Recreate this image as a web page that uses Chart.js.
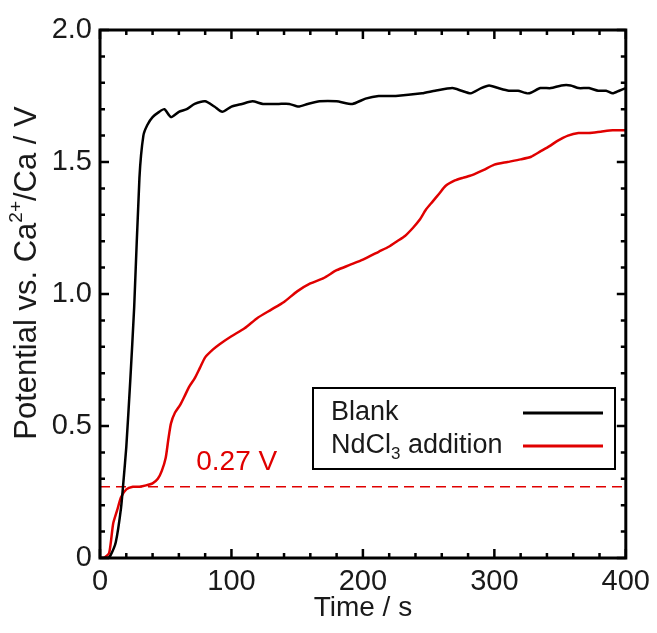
<!DOCTYPE html>
<html>
<head>
<meta charset="utf-8">
<script src="https://cdn.jsdelivr.net/npm/chart.js@4"></script>
<style>
  html, body { margin: 0; padding: 0; background: #fff; }
  #wrap { width: 657px; height: 633px; }
</style>
</head>
<body>
<div id="wrap"><canvas id="potChart" width="657" height="633"></canvas></div>
<script>
// data
const blankTime = [0, 6, 8, 12, 16, 18, 20, 23, 26, 30, 33, 36, 40, 45, 49, 54, 60, 66, 72, 80, 87, 93, 100, 108, 116, 124, 136, 144, 151, 158, 167, 180, 192, 202, 212, 225, 245, 255, 268, 275, 282, 290, 296, 303, 311, 318, 326, 335, 343, 351, 358, 364, 372, 379, 385, 390, 395, 400];
const blankPot = [0, 0, 0.01, 0.06, 0.19, 0.30, 0.42, 0.67, 0.95, 1.44, 1.60, 1.64, 1.67, 1.69, 1.70, 1.67, 1.69, 1.70, 1.72, 1.73, 1.71, 1.69, 1.71, 1.72, 1.73, 1.72, 1.72, 1.72, 1.71, 1.72, 1.73, 1.73, 1.72, 1.74, 1.75, 1.75, 1.76, 1.77, 1.78, 1.77, 1.76, 1.78, 1.79, 1.78, 1.77, 1.77, 1.76, 1.78, 1.78, 1.79, 1.79, 1.78, 1.78, 1.77, 1.77, 1.76, 1.77, 1.78];

const ndTime = [0, 3, 7, 10, 13, 16, 20, 25, 30, 35, 40, 44, 47, 50, 52, 54, 57, 61, 65, 68, 72, 76, 80, 86, 91, 100, 110, 120, 130, 140, 150, 160, 170, 180, 190, 200, 212, 220, 226, 232, 238, 243, 248, 253, 258, 263, 270, 276, 283, 292, 300, 310, 320, 328, 335, 342, 348, 356, 364, 372, 381, 390, 400];
const ndPot = [0, 0, 0.02, 0.13, 0.18, 0.23, 0.26, 0.27, 0.27, 0.275, 0.283, 0.30, 0.33, 0.38, 0.45, 0.51, 0.55, 0.58, 0.62, 0.65, 0.68, 0.72, 0.76, 0.79, 0.81, 0.84, 0.87, 0.91, 0.94, 0.97, 1.01, 1.04, 1.06, 1.09, 1.11, 1.13, 1.16, 1.18, 1.20, 1.22, 1.25, 1.28, 1.32, 1.35, 1.38, 1.41, 1.43, 1.44, 1.45, 1.47, 1.49, 1.50, 1.51, 1.52, 1.54, 1.56, 1.58, 1.60, 1.61, 1.61, 1.615, 1.62, 1.62];

const refLevel = 0.27;
const refLabel = "0.27 V";
const xTicks = [0, 100, 200, 300, 400];
const yTicks = [0, 0.5, 1.0, 1.5, 2.0];
const seriesNames = ["Blank", "NdCl3 addition"];
const seriesColors = ["#000000", "#e00000"];

const FONT = "'Liberation Sans', Arial, sans-serif";
Chart.defaults.font.family = FONT;
Chart.defaults.color = "#1a1a1a";

function toPoints(xs, ys) {
    return xs.map((x, i) => ({x: x, y: ys[i]}));
}

// draws text pieces in a row: [text, size, yShift]
function drawPieces(ctx, parts, x, y, centered) {
    let total = 0;
    parts.forEach(p => { ctx.font = p[1] + "px " + FONT; total += ctx.measureText(p[0]).width; });
    let cx = centered ? x - total / 2 : x;
    parts.forEach(p => {
        ctx.font = p[1] + "px " + FONT;
        ctx.fillText(p[0], cx, y + p[2]);
        cx += ctx.measureText(p[0]).width;
    });
}

// frame, inward ticks, titles with super/subscripts, legend
const decorPlugin = {
    id: "decor",
    afterDraw(chart) {
        const ctx = chart.ctx;
        const a = chart.chartArea;
        const xs = chart.scales.x, ys = chart.scales.y;
        ctx.save();

        // inward ticks on all four sides
        ctx.strokeStyle = "#000";
        ctx.lineWidth = 2.5;
        for (let v = 0; v <= 400.001; v += 20) {
            const px = xs.getPixelForValue(v);
            const len = (Math.round(v) % 100 === 0) ? 9 : 5;
            ctx.beginPath();
            ctx.moveTo(px, a.bottom); ctx.lineTo(px, a.bottom - len);
            ctx.moveTo(px, a.top); ctx.lineTo(px, a.top + len);
            ctx.stroke();
        }
        for (let i = 0; i <= 20; i++) {
            const py = ys.getPixelForValue(i * 0.1);
            const len = (i % 5 === 0) ? 9 : 5;
            ctx.beginPath();
            ctx.moveTo(a.left, py); ctx.lineTo(a.left + len, py);
            ctx.moveTo(a.right, py); ctx.lineTo(a.right - len, py);
            ctx.stroke();
        }

        // frame
        ctx.lineWidth = 3;
        ctx.strokeRect(a.left, a.top, a.right - a.left, a.bottom - a.top);

        // reference label
        ctx.fillStyle = seriesColors[1];
        ctx.font = "28px " + FONT;
        ctx.textAlign = "center";
        ctx.textBaseline = "middle";
        ctx.fillText(refLabel, xs.getPixelForValue(104), ys.getPixelForValue(refLevel) - 24);

        // y title, rotated, with superscript
        ctx.save();
        ctx.translate(27, 273);
        ctx.rotate(-Math.PI / 2);
        ctx.fillStyle = "#1a1a1a";
        ctx.textAlign = "left";
        ctx.textBaseline = "middle";
        drawPieces(ctx, [["Potential vs. Ca", 31, 0], ["2+", 19, -10], ["/Ca / V", 31, 0]], 0, 0, true);
        ctx.restore();

        // legend
        const bx = a.left + 213, by = a.top + 358, bw = 302, bh = 81;
        ctx.fillStyle = "#fff";
        ctx.fillRect(bx, by, bw, bh);
        ctx.strokeStyle = "#000";
        ctx.lineWidth = 2;
        ctx.strokeRect(bx, by, bw, bh);
        ctx.textAlign = "left";
        ctx.textBaseline = "middle";
        ctx.fillStyle = "#1a1a1a";
        const rows = [by + 25, by + 58];
        drawPieces(ctx, [[seriesNames[0], 27, 0]], bx + 18, rows[0], false);
        drawPieces(ctx, [["NdCl", 27, 0], ["3", 17, 8], [" addition", 27, 0]], bx + 18, rows[1], false);
        ctx.lineWidth = 3;
        rows.forEach((ry, i) => {
            ctx.strokeStyle = seriesColors[i];
            ctx.beginPath();
            ctx.moveTo(bx + 210, ry);
            ctx.lineTo(bx + 290, ry);
            ctx.stroke();
        });

        ctx.restore();
    }
};

new Chart(document.getElementById("potChart"), {
    type: "line",
    data: {
        datasets: [
            {
                label: seriesNames[0],
                data: toPoints(blankTime, blankPot),
                borderColor: seriesColors[0],
                borderWidth: 2.5,
                pointRadius: 0,
                tension: 0.2
            },
            {
                label: seriesNames[1],
                data: toPoints(ndTime, ndPot),
                borderColor: seriesColors[1],
                borderWidth: 2.5,
                pointRadius: 0,
                tension: 0.2
            },
            {
                label: refLabel,
                data: [{x: 0, y: refLevel}, {x: 400, y: refLevel}],
                borderColor: seriesColors[1],
                borderWidth: 1.5,
                borderDash: [10, 6],
                pointRadius: 0
            }
        ]
    },
    options: {
        responsive: false,
        animation: false,
        layout: {padding: {top: 30, right: 29, left: 0, bottom: 0}},
        plugins: {legend: {display: false}, tooltip: {enabled: false}},
        scales: {
            x: {
                type: "linear",
                min: 0, max: 400,
                afterBuildTicks: s => { s.ticks = xTicks.map(v => ({value: v})); },
                afterFit: s => { s.height = 75; },
                grid: {display: false, drawTicks: false},
                border: {display: false},
                ticks: {font: {size: 29}, padding: 7, maxRotation: 0},
                title: {display: true, text: "Time / s", font: {size: 28}, padding: {top: 0, bottom: 8}}
            },
            y: {
                min: 0, max: 2.0,
                afterBuildTicks: s => { s.ticks = yTicks.map(v => ({value: v})); },
                afterFit: s => { s.width = 100; },
                grid: {display: false, drawTicks: false},
                border: {display: false},
                ticks: {
                    font: {size: 29}, padding: 8,
                    callback: v => v === 0 ? "0" : v.toFixed(1)
                }
            }
        }
    },
    plugins: [decorPlugin]
});
</script>
</body>
</html>
